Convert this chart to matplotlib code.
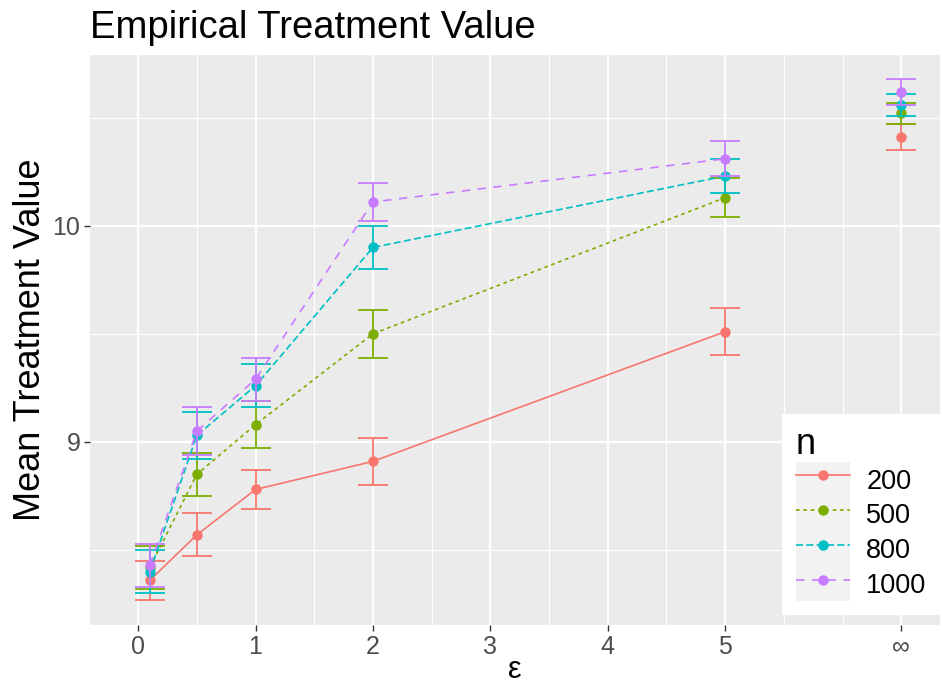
import matplotlib.pyplot as plt
from matplotlib.lines import Line2D
from matplotlib.patches import Patch

plt.rcParams['font.family'] = ['Liberation Sans', 'DejaVu Sans']

# epsilon values; the "infinity" column sits at a fixed spot right of 5
eps = [0.1, 0.5, 1, 2, 5]
inf_pos = 6.5
x_ticks = [0, 1, 2, 3, 4, 5, inf_pos]
x_tick_labels = ['0', '1', '2', '3', '4', '5', '∞']

n_levels = ['200', '500', '800', '1000']

# mean treatment value at eps, then the value at infinity
mean_200 = [8.36, 8.57, 8.78, 8.91, 9.51]
mean_500 = [8.42, 8.85, 9.08, 9.50, 10.13]
mean_800 = [8.40, 9.03, 9.26, 9.90, 10.23]
mean_1000 = [8.43, 9.05, 9.29, 10.11, 10.31]
inf_mean = [10.41, 10.52, 10.56, 10.62]

# half-widths of the error bars
err_200 = [0.09, 0.10, 0.09, 0.11, 0.11]
err_500 = [0.10, 0.10, 0.11, 0.11, 0.09]
err_800 = [0.10, 0.11, 0.10, 0.10, 0.08]
err_1000 = [0.10, 0.11, 0.10, 0.09, 0.08]
inf_err = [0.06, 0.05, 0.05, 0.06]

means = [mean_200, mean_500, mean_800, mean_1000]
errs = [err_200, err_500, err_800, err_1000]

colors = ['#F8766D', '#7CAE00', '#00BFC4', '#C77CFF']
styles = ['-', (0, (2.2, 2.2)), (0, (4.2, 2.0)), (0, (5.0, 4.5))]

fig = plt.figure(figsize=(9.42, 6.85), dpi=100)
ax = fig.add_axes([90 / 942, 60 / 685, 850 / 942, 570 / 685])
ax.set_facecolor('#EBEBEB')
for s in ax.spines.values():
    s.set_visible(False)

# grid like ggplot: major at ticks, minor halfway
for v in [0.5, 1.5, 2.5, 3.5, 4.5, 5.5, 6.0]:
    ax.axvline(v, color='white', lw=0.8, zorder=0)
for v in x_ticks:
    ax.axvline(v, color='white', lw=1.6, zorder=0)
for v in [8.5, 9.5, 10.5]:
    ax.axhline(v, color='white', lw=0.8, zorder=0)
for v in [9, 10]:
    ax.axhline(v, color='white', lw=1.6, zorder=0)

for i in range(4):
    xs = eps + [inf_pos]
    ys = means[i] + [inf_mean[i]]
    es = errs[i] + [inf_err[i]]
    ax.errorbar(xs, ys, yerr=es, fmt='none', ecolor=colors[i], elinewidth=1.3,
                capsize=10.5, capthick=1.3, zorder=2 + i)
    ax.plot(eps, means[i], color=colors[i], linestyle=styles[i], lw=1.2, zorder=2 + i)
    ax.plot(xs, ys, 'o', color=colors[i], ms=6.5, zorder=2 + i)

ax.set_xlim(-0.41, 6.83)
ax.set_ylim(8.153, 10.79)
ax.set_xticks(x_ticks)
ax.set_xticklabels(x_tick_labels)
ax.set_yticks([9, 10])
ax.set_yticklabels(['9', '10'])
ax.tick_params(axis='both', labelsize=18, labelcolor='#4D4D4D', color='#333333',
               length=4, width=1, pad=3)

ax.set_xlabel('ε', fontsize=22, labelpad=-3)
ax.set_ylabel('Mean Treatment Value', fontsize=26, labelpad=3)
ax.set_title('Empirical Treatment Value', loc='left', fontsize=27.5, pad=12)

handles = []
for i in range(4):
    key_bg = Patch(facecolor='#F2F2F2', edgecolor='none')
    key_line = Line2D([], [], color=colors[i], linestyle=styles[i], lw=1.2,
                      marker='o', ms=6.5)
    handles.append((key_bg, key_line))
leg = ax.legend(handles, n_levels, title='n', loc='lower right',
                bbox_to_anchor=(1.0, 10 / 570), borderaxespad=0, fontsize=19.5,
                title_fontsize=26, frameon=True, fancybox=False,
                facecolor='white', edgecolor='none', framealpha=1,
                handlelength=2.0, handleheight=1.6, labelspacing=0,
                handletextpad=0.6, borderpad=0.5, alignment='left')
leg.set_zorder(10)

fig.savefig('out.png', dpi=100)
